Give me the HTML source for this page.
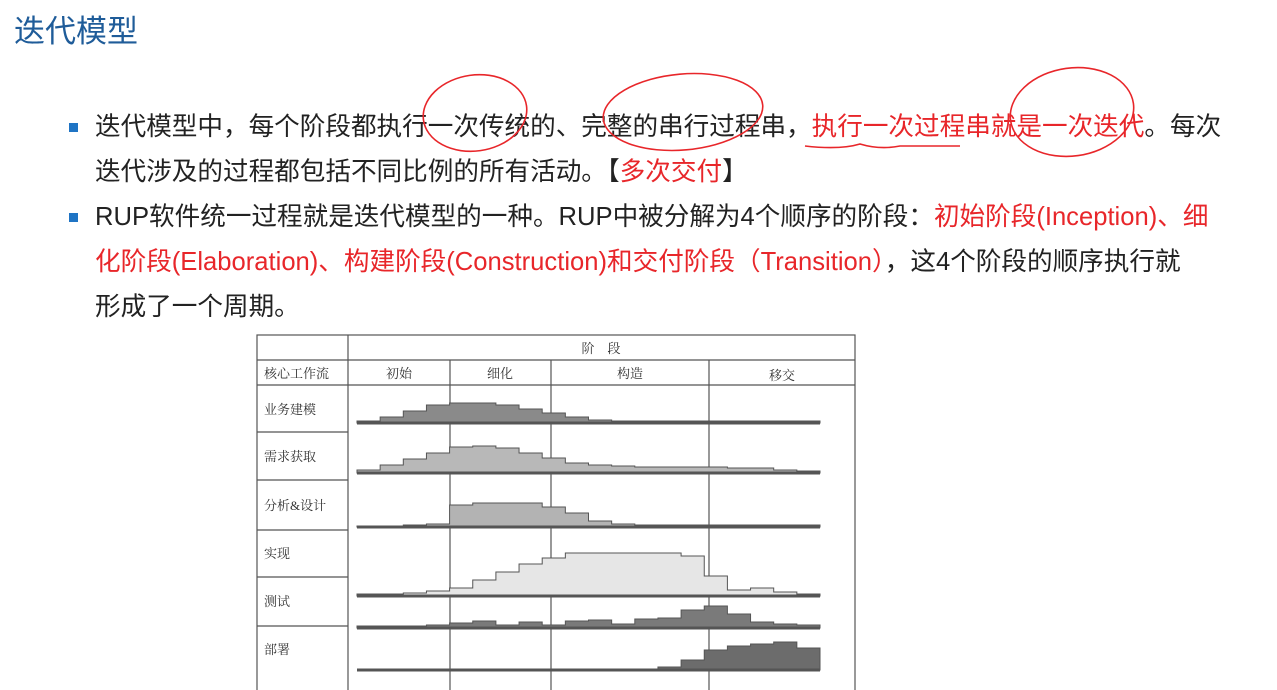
<!DOCTYPE html>
<html><head><meta charset="utf-8">
<style>
html,body{margin:0;padding:0;background:#fff;}
body{width:1277px;height:690px;position:relative;overflow:hidden;font-family:"Liberation Sans","Noto Sans CJK SC",sans-serif;}
.title{position:absolute;left:14px;top:6px;font-size:31px;color:#1f5c99;}
.line{position:absolute;left:95px;font-size:25.6px;color:#222;white-space:nowrap;line-height:30px;}
.r{color:#e8262a;}
.bullet{position:absolute;left:69px;width:9px;height:9px;background:#1f74c4;}
</style></head><body>
<div class="title">迭代模型</div>
<div class="bullet" style="top:123px"></div>
<div class="line" style="top:112px">迭代模型中，每个阶段都执行一次传统的、完整的串行过程串，<span class="r">执行一次过程串就是一次迭代</span>。每次</div>
<div class="line" style="top:157px">迭代涉及的过程都包括不同比例的所有活动。【<span class="r">多次交付</span>】</div>
<div class="bullet" style="top:213px"></div>
<div class="line" style="top:202px">RUP软件统一过程就是迭代模型的一种。RUP中被分解为4个顺序的阶段：<span class="r">初始阶段(Inception)、细</span></div>
<div class="line" style="top:247px"><span class="r">化阶段(Elaboration)、构建阶段(Construction)和交付阶段（Transition）</span>，这4个阶段的顺序执行就</div>
<div class="line" style="top:292px">形成了一个周期。</div>

<svg width="1277" height="690" style="position:absolute;left:0;top:0">
<g fill="none" stroke="#e8262a" stroke-width="1.6">
<ellipse cx="475" cy="113" rx="52" ry="38" transform="rotate(-8 475 113)"/>
<ellipse cx="683" cy="112" rx="80" ry="38" transform="rotate(-5 683 112)"/>
<ellipse cx="1072" cy="112" rx="62" ry="44" transform="rotate(-8 1072 112)"/>
<path d="M805 146 Q840 150 860 144 Q880 150 900 146 L960 146"/>
</g>
<g id="table" stroke="#555" fill="none" stroke-width="1.2">
<rect x="257" y="335" width="598" height="360"/>
<line x1="348" y1="335" x2="348" y2="690"/>
<line x1="257" y1="360" x2="855" y2="360"/>
<line x1="257" y1="385" x2="855" y2="385"/>
<line x1="450" y1="360" x2="450" y2="690"/>
<line x1="551" y1="360" x2="551" y2="690"/>
<line x1="709" y1="360" x2="709" y2="690"/>
<line x1="257" y1="432" x2="348" y2="432"/>
<line x1="257" y1="480" x2="348" y2="480"/>
<line x1="257" y1="530" x2="348" y2="530"/>
<line x1="257" y1="577" x2="348" y2="577"/>
<line x1="257" y1="626" x2="348" y2="626"/>
</g>
<g font-family="'Liberation Serif','Noto Serif CJK SC',serif" font-size="13" fill="#333">
<text x="601" y="353" text-anchor="middle">阶　段</text>
<text x="264" y="378">核心工作流</text>
<text x="399" y="378" text-anchor="middle">初始</text>
<text x="500" y="378" text-anchor="middle">细化</text>
<text x="630" y="378" text-anchor="middle">构造</text>
<text x="782" y="380" text-anchor="middle">移交</text>
<text x="264" y="414">业务建模</text>
<text x="264" y="461">需求获取</text>
<text x="264" y="510">分析&amp;设计</text>
<text x="264" y="558">实现</text>
<text x="264" y="606">测试</text>
<text x="264" y="654">部署</text>
</g>
<g id="curves"></g>
</svg>
<script>
const sampleCount = 21;
const business = [2,6,12,18,20,20,18,14,10,6,3,2,2,2,2,2,2,2,2,2,0];
const requirements = [3,8,14,20,26,27,25,20,15,10,8,7,6,6,6,6,5,5,3,2,0];
const analysis = [1,1,2,3,22,24,24,24,20,14,6,3,2,2,2,2,2,2,2,2,0];
const implementation = [2,2,3,5,8,16,24,32,38,43,43,43,43,43,40,20,6,8,4,2,0];
const testing = [2,2,2,3,5,7,3,6,3,7,8,4,9,10,18,22,14,6,4,3,0];
const deployment = [0,0,0,0,0,0,0,0,0,0,0,0,0,3,10,20,24,26,28,22,0];
const rows = [
 {name:'business-area',v:business,base:423,fill:'#8a8a8a'},
 {name:'requirements-area',v:requirements,base:473,fill:'#b8b8b8'},
 {name:'analysis-area',v:analysis,base:527,fill:'#b3b3b3'},
 {name:'implementation-area',v:implementation,base:596,fill:'#e6e6e6'},
 {name:'test-area',v:testing,base:628,fill:'#7a7a7a'},
 {name:'deploy-area',v:deployment,base:670,fill:'#6c6c6c'}
];
const x0=357,x1=820;
function xs(i){return x0+(x1-x0)*i/(sampleCount-1);}
const g=document.getElementById('curves');
const NS='http://www.w3.org/2000/svg';
rows.forEach(r=>{
  let d='M'+x0+' '+r.base;
  r.v.forEach((h,i)=>{ if(i<sampleCount-1){ d+=' L'+xs(i)+' '+(r.base-h)+' L'+xs(i+1)+' '+(r.base-h);} });
  d+=' L'+x1+' '+r.base+' Z';
  const p=document.createElementNS(NS,'path');
  p.setAttribute('d',d);p.setAttribute('fill',r.fill);p.setAttribute('stroke','#555');p.setAttribute('stroke-width','1');
  
  
  g.appendChild(p);
  const l=document.createElementNS(NS,'line');
  l.setAttribute('x1',x0);l.setAttribute('x2',x1);l.setAttribute('y1',r.base);l.setAttribute('y2',r.base);
  l.setAttribute('stroke','#555');l.setAttribute('stroke-width','3');
  
  
  g.appendChild(l);
});
</script>
</body></html>
